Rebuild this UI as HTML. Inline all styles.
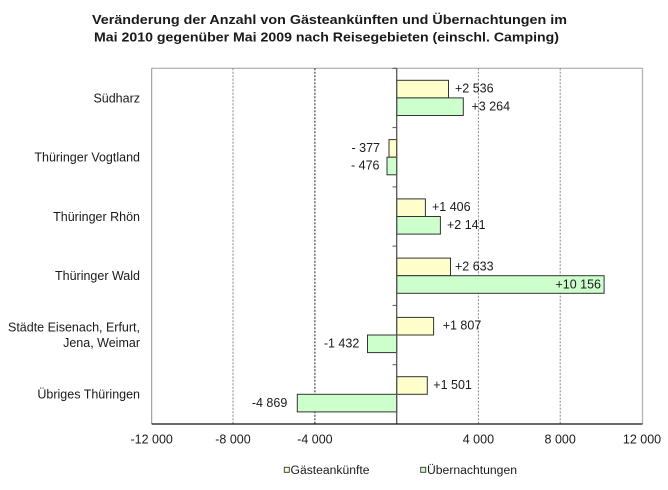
<!DOCTYPE html>
<html>
<head>
<meta charset="utf-8">
<style>
html,body{margin:0;padding:0;background:#fff;}
svg{display:block;}
text{font-family:"Liberation Sans",Arial,sans-serif;fill:#1a1a1a;}
</style>
</head>
<body>
<svg width="668" height="490" viewBox="0 0 668 490" xmlns="http://www.w3.org/2000/svg">
<rect x="0" y="0" width="668" height="490" fill="#fff"/>
<!-- Title -->
<text x="92" y="24" font-size="13" font-weight="bold" textLength="475" lengthAdjust="spacingAndGlyphs">Veränderung  der Anzahl von Gästeankünften  und Übernachtungen  im</text>
<text x="94" y="41.5" font-size="13" font-weight="bold" textLength="465" lengthAdjust="spacingAndGlyphs">Mai 2010 gegenüber  Mai 2009 nach Reisegebieten  (einschl. Camping)</text>

<!-- plot border -->
<line x1="151.7" y1="68.3" x2="642.5" y2="68.3" stroke="#a0a0a0" stroke-width="1"/>
<line x1="642.5" y1="68.3" x2="642.5" y2="424" stroke="#b0b0b0" stroke-width="1.2"/>
<line x1="151.7" y1="68.3" x2="151.7" y2="424" stroke="#909090" stroke-width="1"/>

<!-- gridlines -->
<line x1="233" y1="68.3" x2="233" y2="424" stroke="#888" stroke-width="1" stroke-dasharray="2,1.5"/>
<line x1="314.9" y1="68.3" x2="314.9" y2="424" stroke="#222" stroke-width="1" stroke-dasharray="2,1.5"/>
<line x1="478.4" y1="68.3" x2="478.4" y2="424" stroke="#888" stroke-width="1" stroke-dasharray="2,1.5"/>
<line x1="560.2" y1="68.3" x2="560.2" y2="424" stroke="#888" stroke-width="1" stroke-dasharray="2,1.5"/>

<!-- bars -->
<g stroke="#333" stroke-width="1">
<rect x="396.7" y="80.3" width="51.8" height="17.6" fill="#ffffcc"/>
<rect x="396.7" y="97.9" width="66.6" height="17.6" fill="#ccffcc"/>

<rect x="389.0" y="139.6" width="7.7" height="17.6" fill="#ffffcc"/>
<rect x="387.0" y="157.2" width="9.7" height="17.6" fill="#ccffcc"/>

<rect x="396.7" y="198.9" width="28.7" height="17.6" fill="#ffffcc"/>
<rect x="396.7" y="216.5" width="43.7" height="17.6" fill="#ccffcc"/>

<rect x="396.7" y="258.1" width="53.8" height="17.6" fill="#ffffcc"/>
<rect x="396.7" y="275.7" width="207.4" height="17.6" fill="#ccffcc"/>

<rect x="396.7" y="317.4" width="36.9" height="17.6" fill="#ffffcc"/>
<rect x="367.5" y="335.0" width="29.2" height="17.6" fill="#ccffcc"/>

<rect x="396.7" y="376.7" width="30.6" height="17.6" fill="#ffffcc"/>
<rect x="297.3" y="394.3" width="99.4" height="17.6" fill="#ccffcc"/>
</g>

<!-- zero axis -->
<line x1="396.7" y1="68.3" x2="396.7" y2="424" stroke="#555" stroke-width="1.3"/>
<g stroke="#555" stroke-width="1">
<line x1="392.5" y1="68.3" x2="396.7" y2="68.3"/>
<line x1="392.5" y1="127.6" x2="396.7" y2="127.6"/>
<line x1="392.5" y1="186.9" x2="396.7" y2="186.9"/>
<line x1="392.5" y1="246.1" x2="396.7" y2="246.1"/>
<line x1="392.5" y1="305.4" x2="396.7" y2="305.4"/>
<line x1="392.5" y1="364.7" x2="396.7" y2="364.7"/>
</g>

<!-- x axis -->
<line x1="151.7" y1="424" x2="642.5" y2="424" stroke="#111" stroke-width="1.3"/>

<!-- value labels -->
<g font-size="12.5">
<text x="455" y="92.5">+2 536</text>
<text x="471.5" y="110.5">+3 264</text>
<text x="380" y="152" text-anchor="end">- 377</text>
<text x="379.5" y="169.5" text-anchor="end">- 476</text>
<text x="432" y="211">+1 406</text>
<text x="447" y="229">+2 141</text>
<text x="455" y="270.5">+2 633</text>
<text x="601" y="288.5" text-anchor="end">+10 156</text>
<text x="442.7" y="329.5">+1 807</text>
<text x="359.3" y="347.5" text-anchor="end">-1 432</text>
<text x="433.3" y="389">+1 501</text>
<text x="287.3" y="407" text-anchor="end">-4 869</text>
</g>

<!-- category labels -->
<g font-size="12.5" text-anchor="end">
<text x="140" y="102.3">Südharz</text>
<text x="140" y="161.6">Thüringer Vogtland</text>
<text x="140" y="220.9">Thüringer Rhön</text>
<text x="140" y="280.2">Thüringer Wald</text>
<text x="140" y="331.5">Städte Eisenach, Erfurt,</text>
<text x="140" y="347">Jena, Weimar</text>
<text x="140" y="398.7">Übriges Thüringen</text>
</g>

<!-- tick labels -->
<g font-size="12.5" text-anchor="middle">
<text x="151.7" y="443.5">-12 000</text>
<text x="233" y="443.5">-8 000</text>
<text x="314.9" y="443.5">-4 000</text>
<text x="478.4" y="443.5">4 000</text>
<text x="560.2" y="443.5">8 000</text>
<text x="642" y="443.5">12 000</text>
</g>

<!-- legend -->
<rect x="284.3" y="467.3" width="5" height="5" fill="#ffffcc" stroke="#333" stroke-width="0.9"/>
<text x="290.5" y="474" font-size="11.5" textLength="79" lengthAdjust="spacingAndGlyphs">Gästeankünfte</text>
<rect x="420.7" y="467.3" width="5" height="5" fill="#ccffcc" stroke="#333" stroke-width="0.9"/>
<text x="427" y="474" font-size="11.5" textLength="90" lengthAdjust="spacingAndGlyphs">Übernachtungen</text>
</svg>
</body>
</html>
